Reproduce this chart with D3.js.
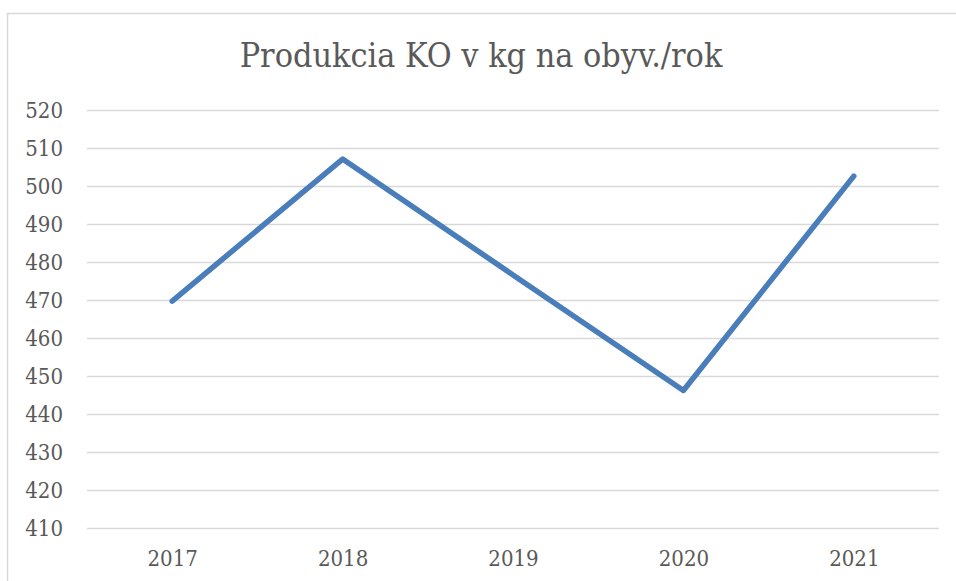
<!DOCTYPE html>
<html>
<head>
<meta charset="utf-8">
<script src="https://cdn.jsdelivr.net/npm/d3@7"></script>
<style>
	body { margin: 0; background: #fff; }
	svg { display: block; }
	text { font-family: "DejaVu Serif Condensed", "DejaVu Serif", serif; font-stretch: condensed; fill: #595959; }
</style>
</head>
<body>
<svg></svg>
<script>
// data
var years = ["2017", "2018", "2019", "2020", "2021"];
var values = [469.7, 507.1, 476.6, 446.2, 502.6];
var yTicks = [410, 420, 430, 440, 450, 460, 470, 480, 490, 500, 510, 520];
var title = "Produkcia KO v kg na obyv./rok";

// Setting margin
var margin = { top: 110, bottom: 53, left: 87, right: 17 };
var width = 956 - margin.left - margin.right;
var height = 581 - margin.top - margin.bottom;

var svg = d3.select("svg")
	.attr("width", 956)
	.attr("height", 581);

// chart border
svg.append("rect")
	.attr("x", 7.5)
	.attr("y", 13.5)
	.attr("width", 1000)
	.attr("height", 1000)
	.attr("fill", "none")
	.attr("stroke", "#d9d9d9")
	.attr("stroke-width", 1.5);

// title
svg.append("text")
	.attr("x", 481)
	.attr("y", 67)
	.attr("text-anchor", "middle")
	.style("font-size", "33.8px")
	.text(title);

var graph = svg.append("g")
	.attr("transform", "translate(" + margin.left + "," + margin.top + ")");

// setting scales
var xscale = d3.scalePoint().domain(years).range([0, width]).padding(0.5);
var yscale = d3.scaleLinear().domain([410, 520]).range([height, 0]);

// gridlines
graph.append("g")
	.attr("class", "grid")
	.call(d3.axisLeft(yscale).tickValues(yTicks).tickSize(-width).tickFormat(""))
	.call(function(g) { g.select(".domain").remove(); })
	.selectAll("line")
		.attr("stroke", "#d9d9d9")
		.attr("stroke-width", 1.5);

// y labels
graph.append("g")
	.call(d3.axisLeft(yscale).tickValues(yTicks).tickSize(0).tickPadding(24))
	.call(function(g) { g.select(".domain").remove(); })
	.selectAll("text")
		.style("font-size", "22px")
		.attr("fill", "#595959");

// x labels
graph.append("g")
	.attr("transform", "translate(0," + height + ")")
	.call(d3.axisBottom(xscale).tickSize(0).tickPadding(22))
	.call(function(g) { g.select(".domain").remove(); })
	.selectAll("text")
		.style("font-size", "22px")
		.attr("fill", "#595959");

// the line
var line = d3.line()
	.x(function(d, i) { return xscale(years[i]); })
	.y(function(d) { return yscale(d); });

graph.append("path")
	.datum(values)
	.attr("d", line)
	.attr("fill", "none")
	.attr("stroke", "#4a7ebb")
	.attr("stroke-width", 5.5)
	.attr("stroke-linecap", "round")
	.attr("stroke-linejoin", "round");
</script>
</body>
</html>
